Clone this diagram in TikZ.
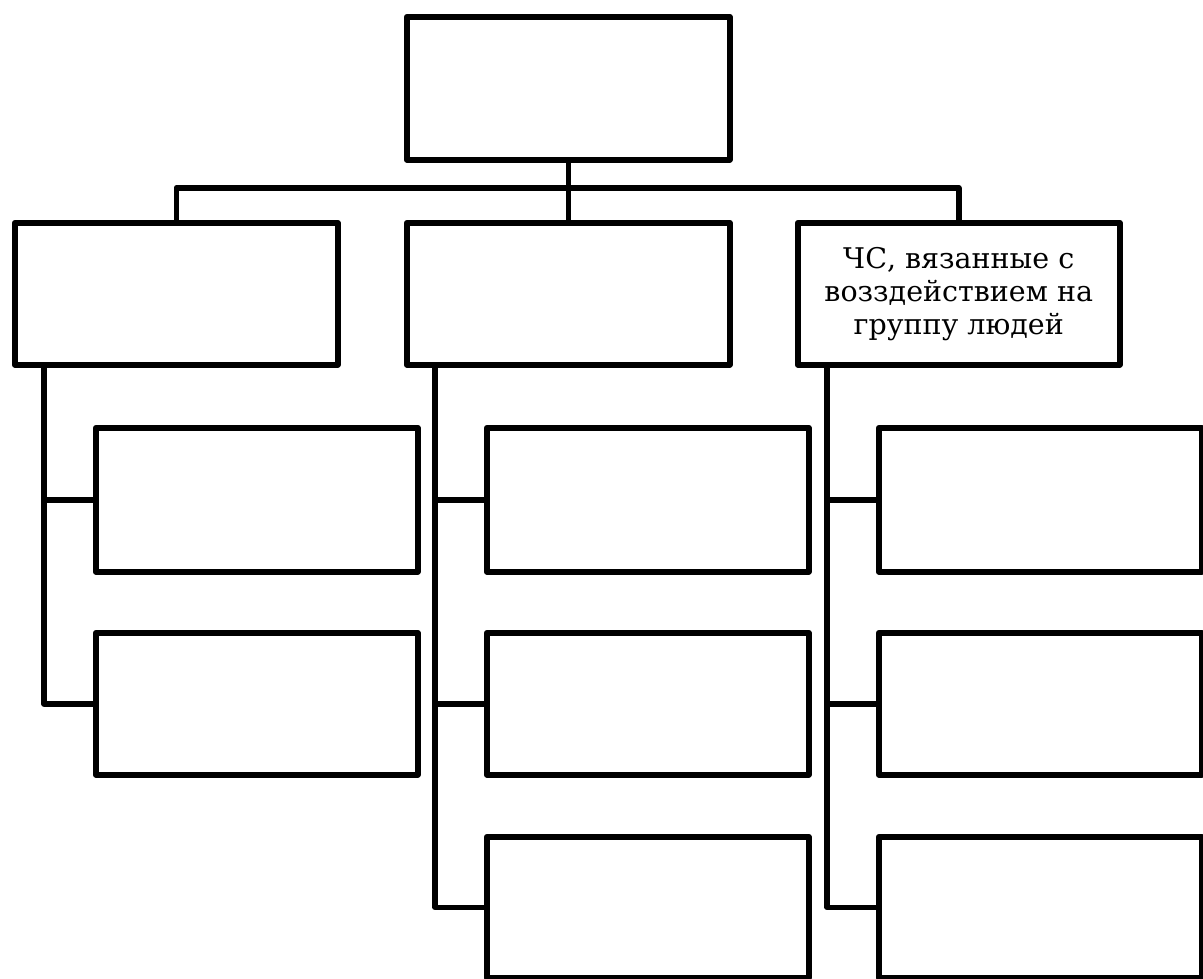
\documentclass[tikz,border=0pt]{standalone}
\usepackage{fontspec}
\setmainfont{DejaVu Serif}
\begin{document}
\begin{tikzpicture}[x=1pt,y=-1pt,line width=5.5pt,line join=round,
  box/.style={draw,line width=5.5pt,rectangle,inner sep=0pt,anchor=north west},
  wide/.style={minimum width=323pt},
  narrow/.style={minimum width=322pt},
  conn/.style={draw,line width=5.5pt,line join=round}]
\useasboundingbox (0,0) rectangle (1203,978);
% top
\node[box,wide,minimum height=143pt] (top) at (404,14) {};
% second row
\node[box,wide,minimum height=142pt] (L) at (12,220) {};
\node[box,wide,minimum height=142pt] (M) at (404,220) {};
\node[box,narrow,minimum height=142pt,align=center,
      font=\fontsize{28.5}{33}\selectfont] (R) at (795,220)
  {ЧС, вязанные с\\возздействием на\\группу людей};
% children
\node[box,narrow,minimum height=144pt] (L1) at (93,425) {};
\node[box,narrow,minimum height=142pt] (L2) at (93,630) {};
\node[box,narrow,minimum height=144pt] (M1) at (484,425) {};
\node[box,narrow,minimum height=142pt] (M2) at (484,630) {};
\node[box,narrow,minimum height=141pt] (M3) at (484,834) {};
\node[box,wide,minimum height=144pt] (R1) at (876,425) {};
\node[box,wide,minimum height=142pt] (R2) at (876,630) {};
\node[box,wide,minimum height=141pt] (R3) at (876,834) {};
% connectors
\coordinate (bar) at (0,188);
\coordinate (lx) at (44,0);
\coordinate (mx) at (435,0);
\coordinate (rx) at (827,0);
\draw[conn] (top.south) -- (M.north);
\draw[conn] (L.north) -- (L.north |- bar) -- (R.north |- bar) -- (R.north);
\draw[conn] (L.south -| lx) -- (L2.west -| lx) -- (L2.west);
\draw[conn] (L1.west -| lx) -- (L1.west);
\draw[conn] (M.south -| mx) -- (M3.west -| mx) -- (M3.west);
\draw[conn] (M1.west -| mx) -- (M1.west);
\draw[conn] (M2.west -| mx) -- (M2.west);
\draw[conn] (R.south -| rx) -- (R3.west -| rx) -- (R3.west);
\draw[conn] (R1.west -| rx) -- (R1.west);
\draw[conn] (R2.west -| rx) -- (R2.west);
\end{tikzpicture}
\end{document}
